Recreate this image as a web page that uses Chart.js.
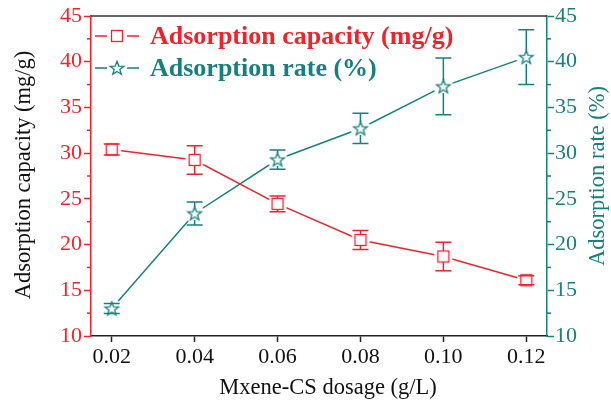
<!DOCTYPE html>
<html>
<head>
<meta charset="utf-8">
<script src="https://cdn.jsdelivr.net/npm/chart.js@4/dist/chart.umd.min.js"></script>
<style>
html,body{margin:0;padding:0;background:#fff;}
canvas{display:block;}
</style>
</head>
<body>
<canvas id="c" width="611" height="402" style="width:611px;height:402px"></canvas>
<script>
// ---- data ----
const dosage = [0.02, 0.04, 0.06, 0.08, 0.10, 0.12];
const xTickLabels = ['0.02', '0.04', '0.06', '0.08', '0.10', '0.12'];
const capacity = [30.4, 29.25, 24.45, 20.5, 18.7, 16.1];
const capacityErr = [0.6, 1.55, 0.85, 1.05, 1.55, 0.5];
const rate = [13.0, 23.4, 29.3, 32.7, 37.3, 40.5];
const rateErr = [0.55, 1.25, 1.05, 1.65, 3.1, 3.0];
const yTicks = [10, 15, 20, 25, 30, 35, 40, 45];
const yMinorTicks = [12.5, 17.5, 22.5, 27.5, 32.5, 37.5, 42.5];
const seriesLabels = ['Adsorption capacity (mg/g)', 'Adsorption rate (%)'];
const xTitle = 'Mxene-CS dosage (g/L)';
const yTitle = 'Adsorption capacity (mg/g)';
const y2Title = 'Adsorption rate (%)';

const RED = '#F0232B';
const TEAL = '#16807E';
const FONT = "'Liberation Serif', 'Times New Roman', serif";

function makeMarker(kind, color) {
  const c = document.createElement('canvas');
  c.width = 24; c.height = 24;
  const g = c.getContext('2d');
  const cx = 12, cy = 12;
  g.fillStyle = '#fff';
  g.beginPath(); g.arc(cx, cy, kind === 'square' ? 9.5 : 10, 0, Math.PI * 2); g.fill();
  g.strokeStyle = color; g.lineWidth = 1.3;
  if (kind === 'square') {
    g.fillRect(cx - 5.5, cy - 5.5, 11, 11);
    g.strokeRect(cx - 5.5, cy - 5.5, 11, 11);
  } else {
    const R = 7.2, r = 3.0;
    g.beginPath();
    for (let k = 0; k < 10; k++) {
      const ang = -Math.PI / 2 + k * Math.PI / 5;
      const rr = k % 2 === 0 ? R : r;
      const px = cx + rr * Math.cos(ang), py = cy + 0.5 + rr * Math.sin(ang);
      if (k === 0) g.moveTo(px, py); else g.lineTo(px, py);
    }
    g.closePath(); g.fill(); g.stroke();
  }
  return c;
}
const squareImg = makeMarker('square', RED);
const starImg = makeMarker('star', TEAL);

const errs = [capacityErr, rateErr];
const markerHalf = [5.5, 6.5];

const errorBarPlugin = {
  id: 'errbars',
  afterDatasetsDraw(chart) {
    const ctx = chart.ctx;
    chart.data.datasets.forEach((ds, di) => {
      const meta = chart.getDatasetMeta(di);
      const ys = chart.scales[ds.yAxisID];
      ctx.save();
      ctx.strokeStyle = ds.borderColor; ctx.lineWidth = 1.5;
      meta.data.forEach((el, i) => {
        const v = ds.data[i].y, e = errs[di][i];
        const top = ys.getPixelForValue(v + e), bot = ys.getPixelForValue(v - e);
        const x = el.x, y = el.y, h = markerHalf[di], cap = 8;
        ctx.beginPath();
        if (top < y - h) { ctx.moveTo(x, top); ctx.lineTo(x, y - h); }
        if (bot > y + h) { ctx.moveTo(x, y + h); ctx.lineTo(x, bot); }
        ctx.moveTo(x - cap, top); ctx.lineTo(x + cap, top);
        ctx.moveTo(x - cap, bot); ctx.lineTo(x + cap, bot);
        ctx.stroke();
      });
      ctx.restore();
    });
  }
};

const framePlugin = {
  id: 'frame',
  afterDraw(chart) {
    const ctx = chart.ctx, a = chart.chartArea;
    ctx.save();
    // top border
    ctx.strokeStyle = '#333'; ctx.lineWidth = 1.5;
    ctx.beginPath(); ctx.moveTo(a.left, a.top); ctx.lineTo(a.right, a.top); ctx.stroke();
    // minor ticks
    const yl = chart.scales.y, yr = chart.scales.y2;
    ctx.lineWidth = 1.5;
    yMinorTicks.forEach(v => {
      const p = yl.getPixelForValue(v);
      ctx.strokeStyle = RED;
      ctx.beginPath(); ctx.moveTo(a.left - 4, p); ctx.lineTo(a.left, p); ctx.stroke();
      const q = yr.getPixelForValue(v);
      ctx.strokeStyle = TEAL;
      ctx.beginPath(); ctx.moveTo(a.right, q); ctx.lineTo(a.right + 4, q); ctx.stroke();
    });
    // axis titles
    ctx.font = '22.5px ' + FONT;
    ctx.textBaseline = 'middle';
    ctx.textAlign = 'center';
    ctx.fillStyle = '#111';
    ctx.fillText(xTitle, 328, 388);
    ctx.save();
    ctx.translate(24, (a.top + a.bottom) / 2 - 1);
    ctx.rotate(-Math.PI / 2);
    ctx.fillText(yTitle, 0, 0);
    ctx.restore();
    ctx.save();
    ctx.fillStyle = TEAL;
    ctx.translate(598, (a.top + a.bottom) / 2);
    ctx.rotate(-Math.PI / 2);
    ctx.fillText(y2Title, 0, 0);
    ctx.restore();
    // legend
    const imgs = [squareImg, starImg];
    const rows = [a.top + 20, a.top + 52];
    chart.data.datasets.forEach((ds, di) => {
      const y = rows[di];
      const x0 = a.left + 4, xm = a.left + 26, x1 = a.left + 48;
      ctx.strokeStyle = ds.borderColor; ctx.lineWidth = 1.5;
      ctx.beginPath();
      ctx.moveTo(x0, y); ctx.lineTo(xm - 10, y);
      ctx.moveTo(xm + 10, y); ctx.lineTo(x1, y);
      ctx.stroke();
      ctx.drawImage(imgs[di], xm - 12, y - 12);
      ctx.fillStyle = ds.borderColor;
      ctx.font = 'bold 26px ' + FONT;
      ctx.textBaseline = 'middle';
      ctx.textAlign = 'left';
      ctx.fillText(ds.label, a.left + 59, y + 1);
    });
    ctx.restore();
  }
};

new Chart(document.getElementById('c'), {
  type: 'line',
  data: {
    datasets: [
      {
        label: seriesLabels[0],
        data: dosage.map((x, i) => ({ x: x, y: capacity[i] })),
        yAxisID: 'y',
        borderColor: RED, backgroundColor: RED, borderWidth: 1.5,
        pointStyle: squareImg, pointRadius: 6, tension: 0
      },
      {
        label: seriesLabels[1],
        data: dosage.map((x, i) => ({ x: x, y: rate[i] })),
        yAxisID: 'y2',
        borderColor: TEAL, backgroundColor: TEAL, borderWidth: 1.5,
        pointStyle: starImg, pointRadius: 6, tension: 0
      }
    ]
  },
  options: {
    responsive: false, animation: false, devicePixelRatio: 1,
    layout: { padding: { top: 16, left: 0, right: 0, bottom: 0 } },
    plugins: { legend: { display: false }, tooltip: { enabled: false } },
    scales: {
      x: {
        type: 'linear', min: 0.015, max: 0.125,
        afterBuildTicks: s => { s.ticks = dosage.map(v => ({ value: v })); },
        afterFit: s => { s.height = 66; },
        ticks: { callback: (v, i) => xTickLabels[i], color: '#111', font: { family: FONT, size: 22 }, padding: 2, maxRotation: 0, autoSkip: false },
        grid: { drawOnChartArea: false, drawTicks: true, tickLength: 6, tickColor: '#222', tickWidth: 1.5 },
        border: { color: '#222', width: 1.5 },
        title: { display: false }
      },
      y: {
        position: 'left', min: 10, max: 45,
        afterBuildTicks: s => { s.ticks = yTicks.map(v => ({ value: v })); },
        afterFit: s => { s.width = 91; },
        ticks: { color: RED, font: { family: FONT, size: 22 }, padding: 2 },
        grid: { drawOnChartArea: false, drawTicks: true, tickLength: 7, tickColor: RED, tickWidth: 1.5 },
        border: { color: RED, width: 1.5 },
        title: { display: false }
      },
      y2: {
        position: 'right', min: 10, max: 45,
        afterBuildTicks: s => { s.ticks = yTicks.map(v => ({ value: v })); },
        afterFit: s => { s.width = 64; },
        ticks: { color: TEAL, font: { family: FONT, size: 22 }, padding: 1 },
        grid: { drawOnChartArea: false, drawTicks: true, tickLength: 7, tickColor: TEAL, tickWidth: 1.5 },
        border: { color: TEAL, width: 1.5 },
        title: { display: false }
      }
    }
  },
  plugins: [errorBarPlugin, framePlugin]
});
</script>
</body>
</html>
